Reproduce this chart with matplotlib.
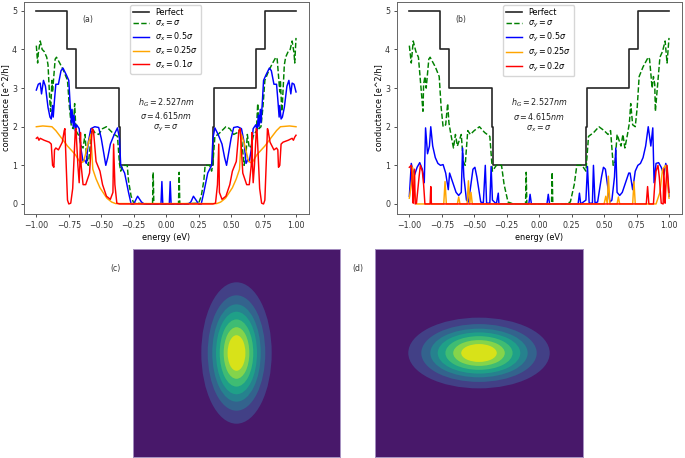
import matplotlib
matplotlib.use("Agg")
import matplotlib.pyplot as plt
from matplotlib.patches import Ellipse

# =========================
# DATA
# =========================

perfect_x = [-1.0, -0.764, -0.764, -0.692, -0.692, -0.367, -0.367, -0.354, -0.354, 0.359, 0.359, 0.372, 0.372, 0.69, 0.69, 0.762, 0.762, 1.0]
perfect_y = [5, 5, 4, 4, 3, 3, 2, 2, 1, 1, 2, 2, 3, 3, 4, 4, 5, 5]

# panel (a)
a_green_x = [-1.0, -0.99, -0.985, -0.97, -0.955, -0.94, -0.92, -0.91, -0.895, -0.89, -0.88, -0.875, -0.855, -0.845, -0.82, -0.79, -0.76, -0.745, -0.73, -0.715, -0.705, -0.695, -0.67, -0.655, -0.64, -0.625, -0.615, -0.60, -0.58, -0.57, -0.55, -0.52, -0.49, -0.46, -0.43, -0.40, -0.375, -0.36, -0.35, -0.335, -0.30, -0.29, -0.27, -0.25, -0.105, -0.10, -0.095,
             0.095, 0.10, 0.105, 0.25, 0.27, 0.29, 0.30, 0.335, 0.35, 0.36, 0.375, 0.40, 0.43, 0.46, 0.49, 0.52, 0.55, 0.57, 0.58, 0.60, 0.615, 0.625, 0.64, 0.655, 0.67, 0.695, 0.705, 0.715, 0.73, 0.745, 0.76, 0.79, 0.82, 0.845, 0.855, 0.875, 0.88, 0.89, 0.895, 0.91, 0.92, 0.94, 0.955, 0.97, 0.985, 0.99, 1.0]
a_green_y = [4.1, 3.65, 3.9, 4.22, 4.0, 3.95, 3.8, 3.6, 2.6, 2.4, 3.2, 2.9, 3.75, 3.8, 3.65, 3.45, 3.2, 2.5, 2.0, 1.95, 2.6, 1.9, 1.75, 1.5, 1.45, 1.8, 1.3, 1.0, 1.7, 1.95, 1.85, 1.8, 1.95, 2.0, 1.9, 1.8, 1.75, 1.05, 0.85, 1.0, 1.0, 0.6, 0.2, 0.02, 0.0, 0.82, 0.0,
             0.0, 0.82, 0.0, 0.02, 0.2, 0.6, 1.0, 1.0, 0.85, 1.05, 1.75, 1.8, 1.9, 2.0, 1.95, 1.8, 1.85, 1.95, 1.7, 1.0, 1.3, 1.8, 1.45, 1.5, 1.75, 1.9, 2.6, 1.95, 2.0, 2.5, 3.2, 3.45, 3.65, 3.8, 3.75, 2.9, 3.2, 2.4, 2.6, 3.6, 3.8, 3.95, 4.0, 4.22, 3.9, 3.65, 4.3]

a_blue_x = [-1.0, -0.985, -0.97, -0.96, -0.945, -0.93, -0.91, -0.895, -0.885, -0.875, -0.87, -0.86, -0.85, -0.83, -0.81, -0.795, -0.77, -0.75, -0.74, -0.73, -0.725, -0.715, -0.71, -0.70, -0.69, -0.67, -0.655, -0.64, -0.63, -0.615, -0.60, -0.58, -0.55, -0.52, -0.50, -0.48, -0.465, -0.45, -0.43, -0.40, -0.375, -0.36, -0.35, -0.32, -0.29, -0.27, -0.25, -0.22, -0.19, -0.17, -0.04, -0.033, -0.026, 0.024, 0.031, 0.038,
            0.17, 0.19, 0.21, 0.25, 0.27, 0.29, 0.32, 0.35, 0.36, 0.375, 0.40, 0.43, 0.45, 0.465, 0.48, 0.50, 0.52, 0.55, 0.58, 0.60, 0.615, 0.63, 0.64, 0.655, 0.67, 0.69, 0.70, 0.71, 0.715, 0.725, 0.73, 0.74, 0.75, 0.77, 0.795, 0.81, 0.83, 0.85, 0.86, 0.87, 0.875, 0.885, 0.895, 0.91, 0.93, 0.945, 0.96, 0.97, 0.985, 1.0]
a_blue_y = [2.95, 3.1, 3.13, 2.85, 3.2, 3.05, 2.5, 2.25, 2.2, 2.55, 2.25, 2.7, 3.1, 3.1, 3.45, 3.52, 3.35, 3.2, 2.6, 2.1, 2.45, 2.0, 2.3, 1.9, 2.05, 1.95, 1.4, 1.1, 1.15, 1.05, 1.6, 1.95, 2.0, 1.98, 1.7, 1.3, 1.0, 1.2, 1.55, 1.8, 1.97, 1.7, 1.0, 0.8, 0.3, 0.0, 0.0, 0.2, 0.05, 0.0, 0.0, 0.58, 0.0, 0.0, 0.58, 0.0,
            0.0, 0.05, 0.2, 0.0, 0.0, 0.3, 0.8, 1.0, 1.7, 1.97, 1.8, 1.55, 1.2, 1.0, 1.3, 1.7, 1.98, 2.0, 1.95, 1.6, 1.05, 1.15, 1.1, 1.4, 1.95, 2.05, 1.9, 2.3, 2.0, 2.45, 2.1, 2.6, 3.2, 3.35, 3.52, 3.45, 3.1, 3.1, 2.7, 2.25, 2.55, 2.2, 2.25, 2.5, 3.05, 3.2, 2.85, 3.13, 3.1, 2.9]

a_orange_x = [-1.0, -0.95, -0.88, -0.85, -0.80, -0.76, -0.70, -0.66, -0.635, -0.60, -0.58, -0.565, -0.54, -0.51, -0.457, -0.42, -0.39, 0.39, 0.42, 0.457, 0.51, 0.54, 0.565, 0.58, 0.60, 0.635, 0.66, 0.70, 0.76, 0.80, 0.85, 0.88, 0.95, 1.0]
a_orange_y = [2.0, 2.02, 2.0, 1.9, 1.68, 1.5, 1.28, 1.06, 1.1, 1.58, 1.8, 0.9, 0.65, 0.42, 0.15, 0.05, 0.01, 0.01, 0.05, 0.15, 0.42, 0.65, 0.9, 1.8, 1.58, 1.1, 1.06, 1.28, 1.5, 1.68, 1.9, 2.0, 2.02, 2.0]

a_red_x = [-1.0, -0.99, -0.98, -0.97, -0.94, -0.90, -0.885, -0.875, -0.865, -0.86, -0.85, -0.83, -0.80, -0.785, -0.78, -0.77, -0.76, -0.75, -0.735, -0.72, -0.70, -0.695, -0.68, -0.67, -0.665, -0.66, -0.655, -0.64, -0.62, -0.59, -0.57, -0.56, -0.54, -0.51, -0.49, -0.46, -0.43, -0.41, -0.405, -0.395, -0.38, -0.36,
           0.36, 0.38, 0.395, 0.405, 0.41, 0.43, 0.46, 0.49, 0.51, 0.54, 0.56, 0.57, 0.59, 0.62, 0.64, 0.655, 0.66, 0.665, 0.67, 0.68, 0.695, 0.70, 0.72, 0.735, 0.75, 0.76, 0.77, 0.78, 0.785, 0.80, 0.83, 0.85, 0.86, 0.865, 0.875, 0.885, 0.90, 0.94, 0.97, 0.98, 0.99, 1.0]
a_red_y = [1.7, 1.73, 1.65, 1.7, 1.65, 1.6, 1.55, 1.0, 0.95, 1.4, 1.45, 1.4, 1.6, 1.9, 1.95, 1.0, 0.1, 0.0, 0.02, 0.4, 1.9, 1.95, 1.0, 0.55, 1.0, 1.85, 1.0, 0.5, 0.5, 0.8, 1.95, 1.9, 1.1, 0.85, 0.5, 0.2, 0.12, 0.3, 1.55, 0.5, 0.02, 0.0,
           0.0, 0.02, 0.5, 1.55, 0.3, 0.12, 0.2, 0.5, 0.85, 1.1, 1.9, 1.95, 0.8, 0.5, 0.5, 1.0, 1.85, 1.0, 0.55, 1.0, 1.95, 1.9, 0.4, 0.02, 0.0, 0.1, 1.0, 1.95, 1.9, 1.6, 1.4, 1.45, 1.4, 0.95, 1.0, 1.55, 1.6, 1.65, 1.7, 1.65, 1.73, 1.78]

# panel (b)
b_green_x = [-1.0, -0.985, -0.97, -0.95, -0.93, -0.91, -0.895, -0.89, -0.88, -0.87, -0.85, -0.84, -0.80, -0.77, -0.755, -0.74, -0.72, -0.705, -0.695, -0.68, -0.66, -0.645, -0.63, -0.60, -0.585, -0.57, -0.55, -0.53, -0.50, -0.46, -0.42, -0.38, -0.36, -0.33, -0.29, -0.27, -0.24, -0.2, -0.105, -0.10, -0.095,
             0.095, 0.10, 0.105, 0.2, 0.24, 0.27, 0.29, 0.33, 0.36, 0.38, 0.42, 0.46, 0.50, 0.53, 0.55, 0.57, 0.585, 0.60, 0.63, 0.645, 0.66, 0.68, 0.695, 0.705, 0.72, 0.74, 0.755, 0.77, 0.80, 0.84, 0.85, 0.87, 0.88, 0.89, 0.895, 0.91, 0.93, 0.95, 0.97, 0.985, 1.0]
b_green_y = [4.1, 3.65, 4.22, 3.95, 3.8, 3.0, 2.4, 3.1, 3.3, 3.0, 3.75, 3.8, 3.55, 3.3, 2.5, 2.0, 2.05, 2.6, 2.1, 1.8, 1.45, 1.8, 1.5, 1.8, 1.1, 1.0, 1.9, 1.8, 1.9, 2.0, 1.85, 1.75, 0.85, 1.0, 1.0, 0.5, 0.05, 0.0, 0.0, 0.82, 0.0,
             0.0, 0.82, 0.0, 0.0, 0.05, 0.5, 1.0, 1.0, 0.85, 1.75, 1.85, 2.0, 1.9, 1.8, 1.9, 1.0, 1.1, 1.8, 1.5, 1.8, 1.45, 1.8, 2.1, 2.6, 2.05, 2.0, 2.5, 3.3, 3.55, 3.8, 3.75, 3.0, 3.3, 3.1, 2.4, 3.0, 3.8, 3.95, 4.22, 3.65, 4.3]

b_blue_x = [-1.0, -0.985, -0.975, -0.96, -0.94, -0.92, -0.90, -0.885, -0.875, -0.86, -0.845, -0.835, -0.82, -0.80, -0.78, -0.76, -0.74, -0.72, -0.70, -0.69, -0.665, -0.64, -0.62, -0.60, -0.59, -0.58, -0.56, -0.545, -0.53, -0.51, -0.495, -0.48, -0.45, -0.43, -0.415, -0.405, -0.38, -0.37, -0.36, -0.33, -0.315, -0.31, -0.08, -0.07, -0.06,
            0.06, 0.07, 0.08, 0.30, 0.31, 0.32, 0.36, 0.372, 0.385, 0.41, 0.418, 0.43, 0.45, 0.48, 0.495, 0.51, 0.53, 0.545, 0.56, 0.58, 0.59, 0.60, 0.62, 0.64, 0.665, 0.69, 0.70, 0.72, 0.74, 0.76, 0.78, 0.80, 0.82, 0.84, 0.86, 0.875, 0.885, 0.90, 0.92, 0.94, 0.96, 0.975, 0.985, 1.0]
b_blue_y = [0.2, 1.05, 0.9, 0.75, 0.95, 1.07, 0.9, 0.55, 1.97, 1.3, 1.5, 2.0, 1.5, 1.2, 1.05, 1.0, 1.02, 0.8, 0.37, 0.8, 0.55, 0.3, 0.22, 0.3, 1.45, 0.7, 0.1, 0.05, 0.4, 0.9, 0.95, 0.7, 0.05, 0.03, 1.0, 0.02, 0.02, 0.97, 0.1, 0.0, 0.28, 0.0, 0.0, 0.25, 0.0,
            0.0, 0.25, 0.0, 0.0, 0.28, 0.0, 0.1, 0.97, 0.02, 0.02, 1.0, 0.03, 0.05, 0.7, 0.95, 0.9, 0.4, 0.05, 0.1, 0.7, 1.45, 0.3, 0.22, 0.3, 0.55, 0.8, 0.8, 0.37, 0.85, 1.0, 1.05, 1.2, 1.5, 2.0, 1.5, 1.97, 0.55, 1.05, 1.07, 0.95, 0.75, 1.05, 0.9, 0.2]

b_orange_x = [-1.0, -0.985, -0.975, -0.96, -0.945, -0.735, -0.725, -0.715, -0.63, -0.62, -0.61, -0.555, -0.545, -0.535, -0.525, -0.515,
              0.50, 0.513, 0.525, 0.533, 0.545, 0.60, 0.61, 0.62, 0.72, 0.73, 0.74, 0.90, 0.93, 0.95, 0.975, 0.99, 1.0]
b_orange_y = [0.15, 0.5, 0.95, 0.3, 0.0, 0.0, 0.58, 0.0, 0.0, 0.18, 0.0, 0.0, 0.6, 0.0, 0.3, 0.0,
              0.0, 0.2, 0.0, 0.72, 0.0, 0.0, 0.18, 0.0, 0.0, 0.58, 0.0, 0.0, 0.3, 0.9, 1.0, 0.5, 0.15]

b_red_x = [-1.0, -0.985, -0.975, -0.97, -0.96, -0.955, -0.945, -0.925, -0.915, -0.90, -0.89, -0.88, -0.84, -0.835, -0.83,
           0.825, 0.835, 0.845, 0.88, 0.89, 0.90, 0.915, 0.925, 0.94, 0.955, 0.96, 0.97, 0.975, 0.985, 1.0]
b_red_y = [0.95, 1.0, 0.4, 0.02, 0.9, 0.0, 0.02, 0.7, 1.0, 0.85, 0.5, 0.0, 0.0, 0.45, 0.0,
           0.0, 0.45, 0.0, 0.0, 0.5, 0.85, 1.0, 0.7, 0.02, 0.0, 0.9, 0.02, 0.4, 1.0, 0.3]

# contour bands of the two bottom panels, half axes in axes units (-1..1)
band_long = [0.68, 0.555, 0.468, 0.397, 0.323, 0.248, 0.171]
band_short = [0.34, 0.278, 0.234, 0.198, 0.162, 0.124, 0.086]

W, H = 685, 458


def px_axes(left, right, top, bottom):
    return fig.add_axes([left / W, 1 - bottom / H, (right - left) / W, (bottom - top) / H])


def conductance(ax, green, blue, orange, red, labels, tag, note, legend_x):
    ax.plot(perfect_x, perfect_y, color="k", lw=1.2, alpha=0.85, label="Perfect")
    ax.plot(green[0], green[1], color="green", lw=1.05, ls="--", label=labels[0])
    ax.plot(blue[0], blue[1], color="blue", lw=1.05, label=labels[1])
    ax.plot(orange[0], orange[1], color="orange", lw=1.05, label=labels[2])
    ax.plot(red[0], red[1], color="red", lw=1.05, label=labels[3])
    ax.set_xlim(-1.095, 1.1)
    ax.set_ylim(-0.26, 5.23)
    ax.set_xticks([-1, -0.75, -0.5, -0.25, 0, 0.25, 0.5, 0.75, 1])
    ax.set_xticklabels(["\u22121.00", "\u22120.75", "\u22120.50", "\u22120.25", "0.00", "0.25", "0.50", "0.75", "1.00"])
    ax.set_xlabel("energy (eV)", fontsize=5.9, labelpad=2)
    ax.set_ylabel("conductance [e^2/h]", fontsize=5.9, labelpad=1.5)
    ax.tick_params(labelsize=5.7, length=2.5, width=0.6, pad=2.5, colors="#333333")
    for s in ax.spines.values():
        s.set_linewidth(0.7)
        s.set_color("#666666")
    ax.legend(loc="upper left", bbox_to_anchor=(legend_x, 0.985), fontsize=5.8, labelspacing=0.18,
              borderpad=0.35, handlelength=2.0, handletextpad=0.8, borderaxespad=0)
    ax.text(-0.6, 4.77, tag, fontsize=5.6, ha="center", va="center", color="#333333")
    ax.text(0.0, 2.3, note, fontsize=5.8, ha="center", va="center", color="#222222", linespacing=1.2)


def gaussian_panel(ax, widths, heights):
    ax.set_facecolor(plt.cm.viridis(0.5 / 8))
    for i in range(len(widths)):
        ax.add_patch(Ellipse((0, 0), 2 * widths[i], 2 * heights[i], color=plt.cm.viridis((i + 1.5) / 8), lw=0))
    ax.set_xlim(-1, 1)
    ax.set_ylim(-1, 1)
    ax.set_xticks([])
    ax.set_yticks([])
    for s in ax.spines.values():
        s.set_linewidth(0.7)
        s.set_color("#a58fc0")


fig = plt.figure(figsize=(W / 100, H / 100), dpi=100)

ax_a = px_axes(24, 309, 2, 214)
conductance(ax_a, (a_green_x, a_green_y), (a_blue_x, a_blue_y), (a_orange_x, a_orange_y), (a_red_x, a_red_y),
            [r"$\sigma_x = \sigma$", r"$\sigma_x = 0.5\sigma$", r"$\sigma_x = 0.25\sigma$", r"$\sigma_x = 0.1\sigma$"],
            "(a)", "$h_G = 2.527nm$\n$\\sigma = 4.615nm$\n$\\sigma_y = \\sigma$", 0.372)

ax_b = px_axes(397, 682, 2, 214)
conductance(ax_b, (b_green_x, b_green_y), (b_blue_x, b_blue_y), (b_orange_x, b_orange_y), (b_red_x, b_red_y),
            [r"$\sigma_y = \sigma$", r"$\sigma_y = 0.5\sigma$", r"$\sigma_y = 0.25\sigma$", r"$\sigma_y = 0.2\sigma$"],
            "(b)", "$h_G = 2.527nm$\n$\\sigma = 4.615nm$\n$\\sigma_x = \\sigma$", 0.372)

ax_c = px_axes(133, 340, 249, 457)
gaussian_panel(ax_c, band_short, band_long)

ax_d = px_axes(375, 583, 249, 457)
gaussian_panel(ax_d, band_long, band_short)

fig.text(115.5 / W, 1 - 268 / H, "(c)", fontsize=5.6, ha="center", va="center", color="#333333")
fig.text(358 / W, 1 - 268 / H, "(d)", fontsize=5.6, ha="center", va="center", color="#333333")

fig.savefig("out.png", dpi=100)
